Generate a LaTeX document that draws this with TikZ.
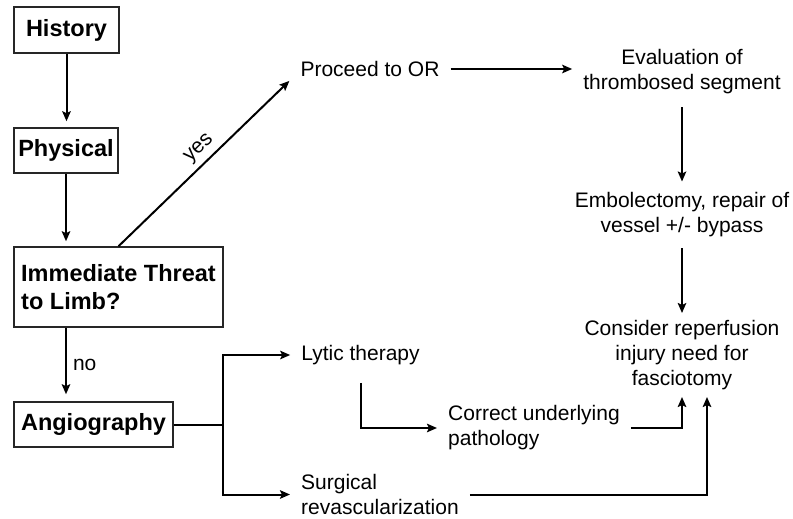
\documentclass[tikz,border=0pt]{standalone}
\usepackage{fontspec}
\setmainfont{Liberation Sans}
\usetikzlibrary{arrows.meta}
\begin{document}
\begin{tikzpicture}[x=1pt,y=-1pt,
  stepbox/.style={draw=black!85, line width=1.5pt, inner sep=0pt,
    font=\fontsize{23.5}{28}\selectfont\bfseries},
  textnode/.style={inner xsep=11pt, inner ysep=4pt,
    font=\fontsize{21}{25}\selectfont},
  lbl/.style={font=\fontsize{21}{25}\selectfont},
  flow/.style={line width=2pt, -{Stealth[length=10pt,width=8.5pt,inset=2pt]}},
  joinline/.style={line width=2pt}]
\useasboundingbox (0,0) rectangle (793,519);

% left column of boxed steps
\node[stepbox, minimum width=105pt, minimum height=46pt] (hist) at (66.5,30) {History};
\node[stepbox, minimum width=104pt, minimum height=45pt] (phys) at (66,150.5) {Physical};
\node[stepbox, minimum width=209pt, minimum height=80pt, align=left] (imm) at (118.5,287) {Immediate Threat\\to Limb?};
\node[stepbox, minimum width=159pt, minimum height=45pt] (angio) at (93.5,424.5) {Angiography};

% plain text steps
\node[textnode] (proc) at (370,69) {Proceed to OR};
\node[textnode, align=center, inner ysep=13pt] (eval) at (682,72) {Evaluation of\\thrombosed segment};
\node[textnode, align=center, inner ysep=11pt] (emb) at (682,215) {Embolectomy, repair of\\vessel +/- bypass};
\node[textnode, align=center, inner ysep=7pt] (cons) at (682,355) {Consider reperfusion\\injury need for\\fasciotomy};
\node[textnode] (lytic) at (360.5,355) {Lytic therapy};
\node[textnode, align=left, anchor=west] (corr) at (437,428) {Correct underlying\\pathology};
\node[textnode, align=left, anchor=west] (surg) at (290,494.5) {Surgical\\revascularization};
\coordinate (split) at (223,424.5);

% connectors
\draw[flow, shorten >=6pt] (hist.south) -- (hist.south |- phys.north);
\draw[flow, shorten >=5pt] (phys.south) -- (phys.south |- imm.north);
\draw[flow, shorten >=7pt] (imm.south -| phys.south) --
  node[right, inner sep=6pt, lbl] {no} (angio.north -| phys.south);
\draw[flow] (imm.north) --
  node[sloped, above, pos=0.53, inner sep=5pt, lbl] {yes} (proc.south west);
\draw[flow] (proc.east) -- (proc.east -| eval.west);
\draw[flow] (eval.south) -- (emb.north);
\draw[flow] (emb.south) -- (cons.north);
\draw[joinline] (angio.east) -- (split);
\draw[flow] (split) |- (lytic.west);
\draw[flow] (split) |- (surg.west);
\draw[flow, shorten <=14pt] (lytic.south) |- (corr.west);
\draw[flow] (corr.east) -| (cons.south);
\draw[flow] (surg.east) -| ([xshift=25pt]cons.south);
\end{tikzpicture}
\end{document}
